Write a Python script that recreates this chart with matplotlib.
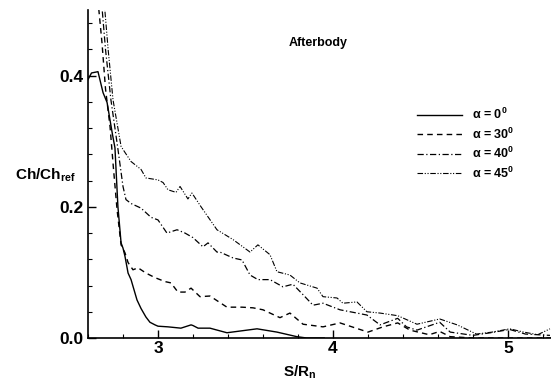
import numpy as np
import matplotlib
matplotlib.use('Agg')
import matplotlib.pyplot as plt
from matplotlib.ticker import MultipleLocator

plt.rcParams['font.family'] = ['Liberation Sans', 'DejaVu Sans']
plt.rcParams['font.weight'] = 'bold'
plt.rcParams['mathtext.fontset'] = 'custom'
plt.rcParams['mathtext.rm'] = 'Liberation Sans:bold'
plt.rcParams['mathtext.bf'] = 'Liberation Sans:bold'
plt.rcParams['mathtext.it'] = 'Liberation Sans:bold'

# alpha = 0
x0 = [2.6, 2.62, 2.657, 2.686, 2.709, 2.74, 2.754, 2.771, 2.789, 2.8, 2.811, 2.829, 2.846,
      2.88, 2.903, 2.931, 2.954, 2.983, 3.0, 3.057, 3.131, 3.189, 3.2, 3.229, 3.297, 3.394,
      3.48, 3.566, 3.68, 3.794, 3.85, 3.95]
y0 = [0.394, 0.404, 0.406, 0.374, 0.359, 0.31, 0.29, 0.20, 0.145, 0.137, 0.125, 0.099, 0.089,
      0.058, 0.045, 0.032, 0.024, 0.020, 0.018, 0.017, 0.015, 0.020, 0.019, 0.015, 0.015, 0.008,
      0.011, 0.014, 0.009, 0.002, 0.0, 0.0]

# alpha = 30
x30 = [2.655, 2.68, 2.70, 2.726, 2.745, 2.766, 2.789, 2.811, 2.829, 2.857, 2.886, 2.931, 2.983,
       3.04, 3.074, 3.114, 3.154, 3.189, 3.24, 3.297, 3.394, 3.48, 3.543, 3.6, 3.697, 3.754,
       3.829, 3.943, 4.04, 4.2, 4.286, 4.37, 4.44, 4.55, 4.61, 4.67, 4.8, 5.25]
y30 = [0.52, 0.45, 0.38, 0.322, 0.26, 0.196, 0.142, 0.130, 0.115, 0.104, 0.107, 0.099, 0.092,
       0.086, 0.084, 0.070, 0.070, 0.076, 0.063, 0.064, 0.047, 0.047, 0.046, 0.043, 0.031, 0.038,
       0.021, 0.017, 0.023, 0.009, 0.017, 0.023, 0.012, 0.005, 0.010, 0.002, 0.0, 0.0]

# alpha = 40
x40 = [2.675, 2.70, 2.731, 2.77, 2.8, 2.817, 2.846, 2.903, 2.96, 3.0, 3.051, 3.109, 3.154, 3.2,
       3.257, 3.286, 3.337, 3.354, 3.429, 3.48, 3.526, 3.571, 3.64, 3.714, 3.771, 3.829, 3.886,
       3.943, 4.04, 4.137, 4.194, 4.269, 4.37, 4.42, 4.48, 4.61, 4.67, 4.8, 4.9, 5.01, 5.1, 5.24]
y40 = [0.52, 0.44, 0.363, 0.29, 0.231, 0.211, 0.205, 0.198, 0.184, 0.180, 0.160, 0.165, 0.160,
       0.153, 0.139, 0.145, 0.131, 0.131, 0.122, 0.119, 0.096, 0.089, 0.089, 0.078, 0.082, 0.066,
       0.050, 0.053, 0.043, 0.038, 0.035, 0.020, 0.030, 0.017, 0.012, 0.024, 0.009, 0.004, 0.008,
       0.013, 0.006, 0.004]

# alpha = 45
x45 = [2.69, 2.715, 2.743, 2.789, 2.811, 2.846, 2.903, 2.931, 3.0, 3.029, 3.057, 3.103, 3.126,
       3.171, 3.194, 3.246, 3.337, 3.429, 3.526, 3.571, 3.64, 3.68, 3.754, 3.811, 3.909, 3.943,
       4.023, 4.057, 4.137, 4.194, 4.269, 4.37, 4.48, 4.61, 4.71, 4.82, 4.91, 5.01, 5.09, 5.17, 5.24]
y45 = [0.52, 0.44, 0.363, 0.292, 0.283, 0.269, 0.257, 0.244, 0.241, 0.237, 0.226, 0.222, 0.231,
       0.212, 0.221, 0.200, 0.165, 0.150, 0.131, 0.142, 0.127, 0.101, 0.096, 0.084, 0.076, 0.063,
       0.061, 0.053, 0.055, 0.040, 0.038, 0.034, 0.021, 0.029, 0.020, 0.006, 0.009, 0.014, 0.009,
       0.005, 0.014]

labels = [r'$\alpha$ = 0$^{0}$', r'$\alpha$ = 30$^{0}$', r'$\alpha$ = 40$^{0}$', r'$\alpha$ = 45$^{0}$']

fig = plt.figure(figsize=(5.51, 3.86), dpi=100)
ax = fig.add_axes([88/551, 48/386, 463/551, 328/386])

ax.plot(x0, y0, color='black', lw=1.0, ls='-', label=labels[0])
ax.plot(x30, y30, color='black', lw=1.0, ls=(0, (4, 3)), label=labels[1])
ax.plot(x40, y40, color='black', lw=0.9, ls=(0, (5, 2, 1, 2)), label=labels[2])
ax.plot(x45, y45, color='black', lw=0.8, ls=(0, (5, 1.5, 1, 1.5, 1, 1.5)), label=labels[3])

ax.set_xlim(2.6, 5.246)
ax.set_ylim(0, 0.5)
ax.xaxis.set_major_locator(MultipleLocator(1))
ax.xaxis.set_minor_locator(MultipleLocator(0.2))
ax.yaxis.set_major_locator(MultipleLocator(0.2))
ax.yaxis.set_minor_locator(MultipleLocator(0.04))
ax.yaxis.set_major_formatter(matplotlib.ticker.FormatStrFormatter('%.1f'))
ax.tick_params(which='major', direction='in', length=6, width=1, labelsize=12.5, pad=3)
ax.tick_params(axis='x', which='major', pad=2)
ax.tick_params(which='minor', direction='in', length=3, width=0.8)
ax.tick_params(axis='x', which='both', top=False)
ax.tick_params(axis='y', which='both', right=False)
ax.spines['top'].set_visible(False)
ax.spines['right'].set_visible(False)
ax.spines['left'].set_linewidth(1.2)
ax.spines['bottom'].set_linewidth(1.2)

fig.text(76/551, 1 - 175/386, r'Ch/Ch$_{\mathregular{ref}}$', ha='right', va='center',
         fontsize=11, fontweight='bold')
fig.text(300/551, 1 - 372/386, r'S/R$_{\mathregular{n}}$', ha='center', va='center',
         fontsize=11, fontweight='bold')
ax.text(0.497, 0.90, 'Afterbody', transform=ax.transAxes, ha='center', va='center',
        fontsize=9, fontweight='bold')

ax.legend(loc='upper left', bbox_to_anchor=(0.711, 0.705), frameon=False, fontsize=9,
          handlelength=3.6, handletextpad=0.8, labelspacing=0.35, borderpad=0, borderaxespad=0)

fig.savefig('out.png', dpi=100)
